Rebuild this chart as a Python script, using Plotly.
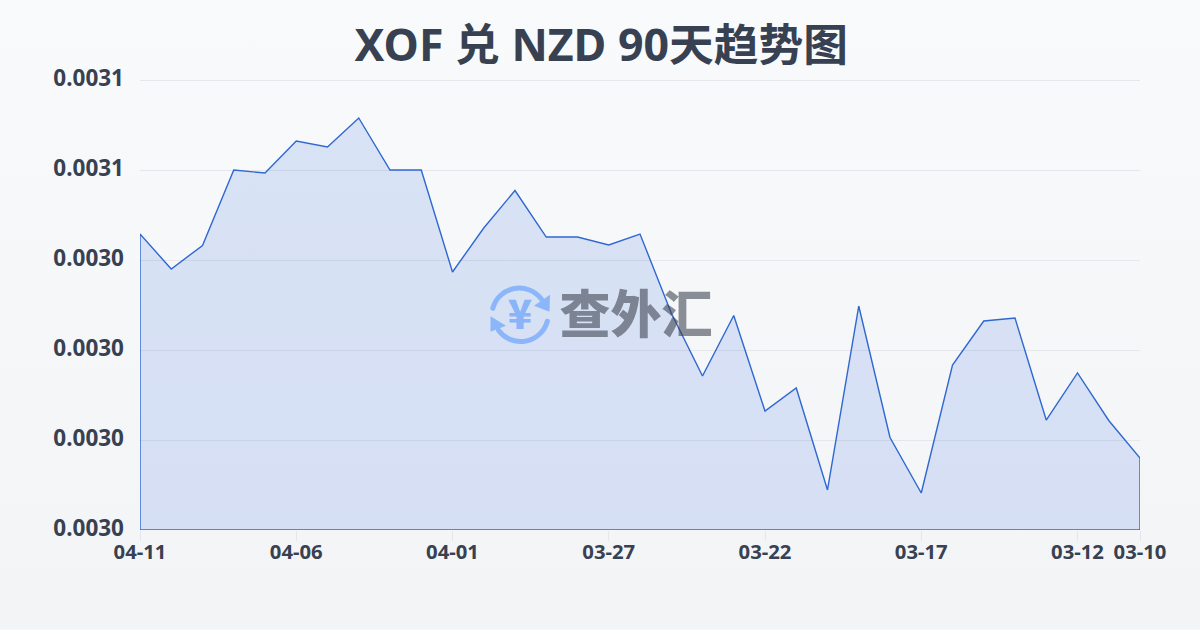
import base64
import plotly.graph_objects as go

# ---------- data ----------
dates = ["04-11", "04-10", "04-09", "04-08", "04-07", "04-06", "04-05", "04-04", "04-03", "04-02", "04-01",
         "03-31", "03-30", "03-29", "03-28", "03-27", "03-26", "03-25", "03-24", "03-23", "03-22",
         "03-21", "03-20", "03-19", "03-18", "03-17", "03-16", "03-15", "03-14", "03-13", "03-12",
         "03-11", "03-10"]
rates = [0.00304933, 0.00304350, 0.00304742, 0.00306000, 0.00305950, 0.00306483, 0.00306383, 0.00306867,
         0.00306000, 0.00306000, 0.00304300, 0.00305033, 0.00305658, 0.00304883, 0.00304883, 0.00304750,
         0.00304933, 0.00303617, 0.00302567, 0.00303575, 0.00301983, 0.00302367, 0.00300667, 0.00303733,
         0.00301542, 0.00300617, 0.00302750, 0.00303483, 0.00303533, 0.00301833, 0.00302617, 0.00301825,
         0.00301200]
y_ticks = [0.003000, 0.003015, 0.003030, 0.003045, 0.003060, 0.003075]
y_labels = ["0.0030", "0.0030", "0.0030", "0.0030", "0.0031", "0.0031"]
x_labelled = ["04-11", "04-06", "04-01", "03-27", "03-22", "03-17", "03-12", "03-10"]
title = "XOF 兑 NZD 90天趋势图"
logo_text = "查外汇"
logo_symbol = "¥"

# ---------- styles ----------
INK = "#374151"
LINE = "#2f68d0"
FILL = "rgba(38,95,222,0.14)"
GRID = "#e5e7eb"
CJK = "'Noto Sans','Noto Sans CJK SC',sans-serif"
W, H = 1200, 630
ML, MR, MT, MB = 140, 60, 80, 99.5
PW, PH = W - ML - MR, H - MT - MB
base = y_ticks[0]
top = y_ticks[-1]
last = len(dates) - 1


def to_x(px):
    return (px - ML) / PW * last


def to_y(py):
    return base + (MT + PH - py) / PH * (top - base)


svg = f"""<svg xmlns='http://www.w3.org/2000/svg' width='{W}' height='{H}' viewBox='0 0 {W} {H}'>
<defs><linearGradient id='g' x1='0' y1='0' x2='0' y2='1'>
<stop offset='0' stop-color='#f8fafc'/><stop offset='1' stop-color='#f3f4f6'/></linearGradient></defs>
<rect width='{W}' height='{H}' fill='url(#g)'/>
<g fill='none' stroke='#9cc5ff' stroke-width='5' stroke-linecap='round'>
<path d='M492.8 308.5 A27.5 27.5 0 0 1 541.5 299.5'/>
<path d='M547.3 321.5 A27.5 27.5 0 0 1 498.5 330.5'/>
</g>
<g fill='#9cc5ff'>
<path d='M550 295 L549.5 312 L534 306 Z'/>
<path d='M490.5 316.5 L490.5 332 L506 326 Z'/>
</g>
</svg>"""
bg_uri = "data:image/svg+xml;base64," + base64.b64encode(svg.encode()).decode()

idx = list(range(len(dates)))
fig = go.Figure()

# closed area: series, then down to the axis minimum and back
fig.add_trace(go.Scatter(x=idx + [last, 0, 0], y=rates + [base, base, rates[0]],
                         mode="lines", fill="toself", fillcolor=FILL, cliponaxis=False,
                         line=dict(color=LINE, width=1.4), hoverinfo="skip"))

# translucent watermark text over the series
fig.add_trace(go.Scatter(x=[to_x(636)], y=[to_y(321)], mode="text", text=[logo_text], hoverinfo="skip",
                         textposition="middle center", cliponaxis=False,
                         textfont=dict(family="'Noto Sans CJK SC'", size=51, color="rgba(55,60,74,0.57)", weight=900)))
fig.add_trace(go.Scatter(x=[to_x(520)], y=[to_y(319)], mode="text", text=[logo_symbol], hoverinfo="skip",
                         textposition="middle center", cliponaxis=False,
                         textfont=dict(family="'Noto Sans CJK SC'", size=40, color="#8ab4f8", weight=900)))

fig.update_layout(
    width=W, height=H, autosize=False,
    margin=dict(l=ML, r=MR, t=MT, b=MB),
    paper_bgcolor="#f6f8fa", plot_bgcolor="rgba(0,0,0,0)",
    showlegend=False,
    title=dict(text=title, x=0.501, xanchor="center", xref="container", y=0.928, yanchor="middle",
               font=dict(family=CJK, size=44.7, color=INK, weight=700)),
    images=[dict(source=bg_uri, xref="paper", yref="paper", x=-ML / PW, y=1 + MT / PH,
                 sizex=W / PW, sizey=H / PH, xanchor="left", yanchor="top",
                 sizing="stretch", layer="below")],
    shapes=[dict(type="line", xref="paper", x0=0, x1=1, yref="y", y0=to_y(80.5), y1=to_y(80.5),
                 line=dict(color=GRID, width=1), layer="below")],
    xaxis=dict(range=[0, last], tickmode="array", tickvals=[dates.index(d) for d in x_labelled],
               ticktext=x_labelled, showgrid=False, zeroline=False, showline=False,
               ticks="outside", ticklen=10, tickwidth=1, tickcolor=GRID, tickangle=0,
               ticklabelstandoff=-6,
               tickfont=dict(family=CJK, size=20.3, color=INK, weight=700)),
    yaxis=dict(range=[base, top], tickmode="array", tickvals=y_ticks, ticktext=y_labels,
               showgrid=True, gridcolor=GRID, gridwidth=1, zeroline=False, showline=False,
               ticks="", ticklabelstandoff=15, ticklabelshift=-2,
               tickfont=dict(family=CJK, size=22.5, color=INK, weight=700)),
)

fig.write_html("out.html", config={"displayModeBar": False},
               post_script="document.body.style.margin='0';")
